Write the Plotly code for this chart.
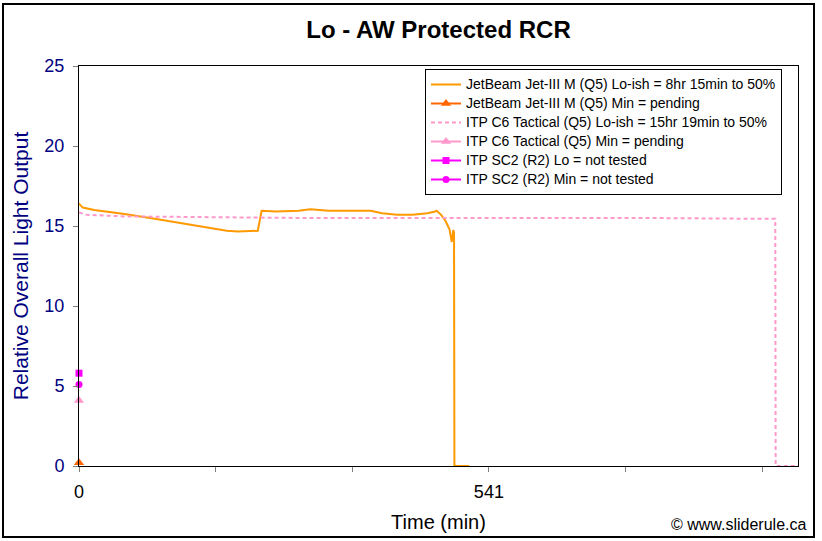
import plotly.graph_objects as go

# ---- data ----
jet_lo_t = [0, 5, 20, 60, 100, 150, 195, 210, 236, 241, 260, 290, 305, 330, 360, 385, 400,
            420, 440, 460, 470, 472, 478, 484, 489, 491, 492, 494, 495, 495.5, 515]
jet_lo_y = [16.4, 16.15, 16.0, 15.75, 15.45, 15.05, 14.7, 14.65, 14.7, 15.95, 15.9, 15.95,
            16.05, 15.95, 15.95, 15.95, 15.8, 15.7, 15.7, 15.8, 15.9, 15.95, 15.7, 15.3,
            14.8, 14.3, 14.0, 14.75, 14.6, 0, 0]

itp_lo_t = [0, 10, 60, 150, 300, 450, 600, 750, 900, 919, 919.5, 949]
itp_lo_y = [15.85, 15.7, 15.6, 15.55, 15.5, 15.5, 15.5, 15.5, 15.45, 15.45, 0, 0]

jet_min_t, jet_min_y = [0], [0.2]
itp_min_t, itp_min_y = [0], [4.1]
sc2_lo_t, sc2_lo_y = [0], [5.8]
sc2_min_t, sc2_min_y = [0], [5.1]

names = [
    "JetBeam Jet-III M (Q5) Lo-ish = 8hr 15min to 50%",
    "JetBeam Jet-III M (Q5) Min = pending",
    "ITP C6 Tactical (Q5) Lo-ish = 15hr 19min to 50%",
    "ITP C6 Tactical (Q5) Min = pending",
    "ITP SC2 (R2) Lo = not tested",
    "ITP SC2 (R2) Min = not tested",
]

x_tickvals = [0, 541 / 3, 2 * 541 / 3, 541, 4 * 541 / 3, 5 * 541 / 3]
x_ticktext = ["0", "", "", "541", "", ""]
y_tickvals = [0, 5, 10, 15, 20, 25]

FONT = "Arial, Liberation Sans, sans-serif"
NAVY = "#000080"


def leg(name):
    return '<span style="font-size:14px">' + name + "</span>"


fig = go.Figure()
fig.add_trace(go.Scatter(x=jet_lo_t, y=jet_lo_y, name=leg(names[0]), mode="lines",
                         line=dict(color="#FF9900", width=2)))
fig.add_trace(go.Scatter(x=jet_min_t, y=jet_min_y, name=leg(names[1]), mode="lines+markers",
                         line=dict(color="#FF6600", width=2),
                         marker=dict(symbol="triangle-up", size=9, color="#FF6600"),
                         cliponaxis=False))
fig.add_trace(go.Scatter(x=itp_lo_t, y=itp_lo_y, name=leg(names[2]), mode="lines",
                         line=dict(color="#FF99CC", width=2, dash="4px,3px")))
fig.add_trace(go.Scatter(x=itp_min_t, y=itp_min_y, name=leg(names[3]), mode="lines+markers",
                         line=dict(color="#FF99CC", width=2),
                         marker=dict(symbol="triangle-up", size=9, color="#FF99CC"),
                         cliponaxis=False))
fig.add_trace(go.Scatter(x=sc2_lo_t, y=sc2_lo_y, name=leg(names[4]), mode="lines+markers",
                         line=dict(color="#FF00FF", width=2),
                         marker=dict(symbol="square", size=7, color="#FF00FF"),
                         cliponaxis=False))
fig.add_trace(go.Scatter(x=sc2_min_t, y=sc2_min_y, name=leg(names[5]), mode="lines+markers",
                         line=dict(color="#FF00FF", width=2),
                         marker=dict(symbol="circle", size=7, color="#FF00FF"),
                         cliponaxis=False))

L, R, T, B = 79, 24, 66, 75
W, H = 822, 541
pw, ph = W - L - R, H - T - B


def px2paper_x(px):
    return (px - L) / pw


def px2paper_y(py):
    return (H - B - py) / ph


fig.update_layout(
    width=W, height=H,
    margin=dict(l=L, r=R, t=T, b=B, autoexpand=False),
    paper_bgcolor="white", plot_bgcolor="white",
    font=dict(family=FONT, color="black"),
    title=dict(text="<b>Lo - AW Protected RCR</b>", x=0.5, xref="paper", xanchor="center",
               y=1 - 30 / H, yanchor="middle", font=dict(size=24, color="black")),
    showlegend=True,
    legend=dict(x=px2paper_x(425), y=px2paper_y(69), xanchor="left", yanchor="top",
                bgcolor="white", bordercolor="black", borderwidth=1,
                font=dict(size=12, color="black"), tracegroupgap=0),
    xaxis=dict(range=[0, 949], tickvals=x_tickvals, ticktext=x_ticktext,
               ticks="outside", ticklen=5, tickcolor="#808080",
               showline=True, linecolor="black", linewidth=1, mirror=True,
               showgrid=False, zeroline=False, ticklabelstandoff=4,
               tickfont=dict(size=18, color="black"),
               title=dict(text="Time (min)", font=dict(size=20, color="black"), standoff=14)),
    yaxis=dict(range=[0, 25], tickvals=y_tickvals,
               ticks="outside", ticklen=5, tickcolor="#808080",
               showline=True, linecolor="black", linewidth=1, mirror=True,
               showgrid=False, zeroline=False, ticklabelstandoff=5,
               tickfont=dict(size=18, color=NAVY),
               title=dict(text="Relative Overall Light Output",
                          font=dict(size=21, color=NAVY), standoff=10)),
    shapes=[dict(type="rect", xref="paper", yref="paper",
                 x0=px2paper_x(3), x1=px2paper_x(814),
                 y0=px2paper_y(537), y1=px2paper_y(4),
                 line=dict(color="black", width=2), fillcolor="rgba(0,0,0,0)", layer="below")],
    annotations=[dict(text="© www.sliderule.ca", xref="paper", yref="paper",
                      x=px2paper_x(808), y=px2paper_y(524), xanchor="right", yanchor="middle",
                      showarrow=False, font=dict(size=16, color="black"))],
)

fig.write_html("out.html", config={"displayModeBar": False},
               post_script="document.body.style.margin='0';document.body.style.overflow='hidden';")
